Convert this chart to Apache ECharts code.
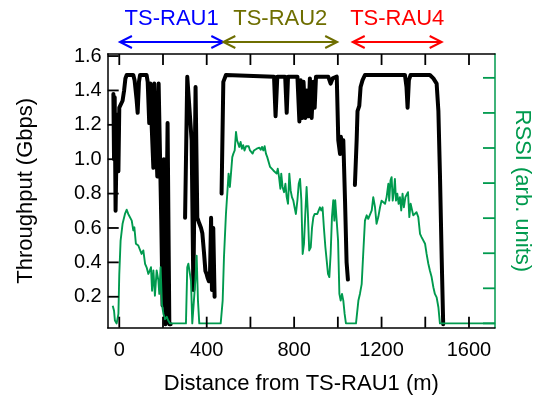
<!DOCTYPE html>
<html><head><meta charset="utf-8">
<script src="https://cdn.jsdelivr.net/npm/echarts@6/dist/echarts.min.js"></script>
<style>html,body{margin:0;padding:0;background:#fff}#c{width:537px;height:398px}</style>
</head><body><div id="c"></div>
<script>
// Throughput (Gbps) vs distance (m); null = no data
const thrDist = [-27,-24,-21,-17,-12,-8,-4,0,9,15,22,28,34,64,70,79,84,90,95,125,130,137,142,148,156,160,166,174,180,186,192,198,204,211,217,221,229,235,268,
  301,311,320,331,339,343,349,357,365,374,380,388,394,400,404,410,415,420,424,430,436,450,
  468,476,488,708,715,723,759,766,772,815,824,830,837,843,851,857,866,872,880,888,894,900,956,967,976,995,1002,1010,1014,1020,1025,1033,1040,1046,1060,
  1078,1086,1090,1098,1104,1113,1124,1307,1314,1319,1325,1333,1421,1437,1452,1460,1467,1475,1482];
const thrVal = [1.38,1.00,1.36,0.70,1.10,1.26,0.93,1.30,1.31,1.34,1.40,1.47,1.49,1.49,1.46,1.35,1.27,1.45,1.49,1.49,1.45,1.21,1.44,1.20,0.95,1.44,1.20,0.90,1.44,1.44,0.65,0.15,1.00,0.04,0.04,1.21,0.04,0.04,null,
  0.66,1.48,1.48,1.11,0.24,0.72,1.42,0.66,0.63,0.60,0.57,0.45,0.35,0.33,0.31,0.29,0.33,0.66,0.24,0.60,0.20,null,
  0.80,1.45,1.49,1.48,1.25,1.48,1.48,1.27,1.48,1.48,1.22,1.46,1.24,1.45,1.24,1.40,1.25,1.47,1.24,1.45,1.30,1.48,1.48,1.44,1.47,1.48,1.11,1.03,1.13,1.05,1.11,0.75,0.40,0.30,null,
  0.85,1.11,1.28,1.31,1.42,1.46,1.49,1.49,1.42,1.30,1.46,1.49,1.49,1.47,1.44,1.28,0.92,0.43,0.04];

// RSSI (arb. units) vs distance (m)
const rssiDist = [-30,-24,-20,-12,-4,0,6,15,26,34,41,49,57,64,69,76,87,95,102,110,118,125,133,140,145,150,156,163,171,179,183,189,195,202,209,217,224,232,
  305,311,316,324,328,334,343,348,354,360,366,
  464,473,479,488,494,500,506,511,517,522,528,534,539,543,549,555,561,567,573,580,586,592,598,604,610,616,622,629,635,641,647,653,659,665,671,677,683,690,697,705,712,720,725,731,737,741,747,754,760,766,772,778,784,790,796,802,808,815,821,827,833,839,845,851,857,863,869,876,882,888,894,900,906,912,918,924,930,936,943,949,955,961,967,973,979,984,988,995,1001,1007,1013,1019,1025,1031,1037,
  1083,1094,1101,1109,1116,1124,1132,1139,1147,1155,1162,1170,1177,1185,1193,1200,1208,1216,1223,1231,1235,1241,1246,1251,1257,1261,1266,1272,1278,1284,1290,1296,1302,1309,1315,1321,1327,1333,1339,1345,1353,1360,1368,1376,1383,1391,1399,1406,1414,1421,1429,1437,1444,1452,1460,1467,1720];
const rssiVal = [0.50,0.36,0.08,0,0.27,1.41,2.36,2.84,3.12,3.24,3.12,3.08,2.93,2.65,2.74,2.27,2.22,2.17,1.98,2.08,1.70,1.60,1.41,1.51,1.60,0.93,1.51,0.79,1.51,1.22,0.84,1.60,0.55,0.27,0.12,0.19,0.08,0,
  0,1.60,1.70,1.65,1.22,0,0,1.22,1.93,0.65,0,
  0,0.65,1.89,3.12,3.12,4.27,3.89,4.27,4.74,4.84,4.93,5.46,5.22,5.27,5.03,5.17,4.98,5.08,4.93,5.05,5.01,5.05,4.93,4.98,4.84,4.93,4.89,4.98,4.93,5.01,4.95,5.03,4.93,5.05,4.84,4.74,4.79,4.46,4.44,4.36,4.31,4.27,4.41,4.17,3.84,4.27,3.89,3.74,3.98,3.60,3.41,4.27,3.79,3.60,3.51,3.31,3.12,3.51,3.98,4.12,3.51,1.98,2.27,3.12,3.89,3.12,2.08,2.17,2.74,3.03,3.12,3.08,3.12,3.08,3.31,3.22,3.31,2.74,2.17,1.79,1.41,1.32,1.98,3.03,3.51,2.93,3.51,3.55,2.36,0.84,0.65,0.84,0.65,0.27,0,
  0,0.65,0.84,1.12,1.98,2.93,3.08,2.98,2.93,3.22,3.60,3.31,2.84,3.03,3.31,3.50,3.55,3.41,3.60,3.98,3.50,4.08,4.17,3.50,3.79,4.12,3.50,3.70,3.41,3.60,3.22,3.70,3.31,3.60,3.65,3.74,3.03,3.41,3.46,3.08,3.12,3.17,3.03,2.55,2.46,2.41,2.27,1.98,1.70,1.51,1.32,1.03,0.84,0.74,0.46,0,0];

const xTicks = [0,200,400,600,800,1000,1200,1400,1600];
const xLabels = [0,400,800,1200,1600];
const yTicks = [0.2,0.4,0.6,0.8,1.0,1.2,1.4,1.6];
const rssiTicks = [0,1,2,3,4,5,6,7];

const rauNames = ['TS-RAU1','TS-RAU2','TS-RAU4'];
const rauStart = [3,476,1068];
const rauEnd = [476,997,1475];
const rauColors = ['#0000ff','#6e6e00','#ff0000'];

(function(){
const X_MIN = -53, X_MAX = 1719, Y_MIN = 0.02, Y_MAX = 1.612, R_MIN = -0.123, R_MAX = 7.68;
const FONT = '"Liberation Sans", Arial, Helvetica, sans-serif';
const GREEN = '#009a4e';
const TL = 11;

const thrData = thrDist.map((d,i)=>[d, thrVal[i]===null ? '-' : thrVal[i]]);
const rssiData = rssiDist.map((d,i)=>[d, rssiVal[i]]);

const chart = echarts.init(document.getElementById('c'), null, {renderer:'canvas'});
const axisLine = {show:true, onZero:false, lineStyle:{color:'#000', width:1.5}};

// inward ticks drawn as custom series through the cartesian scales
function tickSeries(data, yIdx, kind, color){
  return {
    type:'custom', xAxisIndex:0, yAxisIndex:yIdx, data:data, z:10, clip:false, silent:true,
    renderItem:(params, api)=>{
      const v = api.value(kind==='x' ? 0 : 1);
      let shapes = [];
      if (kind==='x'){
        const b = api.coord([v, Y_MIN]);
        const t = api.coord([v, Y_MAX]);
        shapes = [[b[0], b[1], b[0], b[1]-TL], [t[0], t[1], t[0], t[1]+TL]];
      } else if (kind==='y'){
        const p = api.coord([X_MIN, v]);
        shapes = [[p[0], p[1], p[0]+TL, p[1]]];
      } else {
        const p = api.coord([X_MAX, v]);
        shapes = [[p[0], p[1], p[0]-12, p[1]]];
      }
      return {type:'group', children: shapes.map(s=>({type:'line', shape:{x1:s[0], y1:s[1], x2:s[2], y2:s[3]}, style:{stroke:color, lineWidth:1.8}}))};
    }
  };
}

chart.setOption({
  animation:false,
  textStyle:{fontFamily:FONT},
  grid:{left:107.7, right:42, top:54, bottom:70.3, containLabel:false, outerBoundsMode:'none'},
  xAxis:[{
    type:'value', min:X_MIN, max:X_MAX, position:'bottom',
    axisLine:axisLine, axisTick:{show:false},
    axisLabel:{customValues:xLabels, fontSize:20, color:'#000', margin:13, fontFamily:FONT, formatter:v=>String(v)},
    splitLine:{show:false},
    name:'Distance from TS-RAU1 (m)', nameLocation:'middle', nameGap:45,
    nameTextStyle:{fontSize:22, color:'#000', fontFamily:FONT}
  },{
    type:'value', min:X_MIN, max:X_MAX, position:'top',
    axisLine:axisLine, axisTick:{show:false},
    axisLabel:{show:false}, splitLine:{show:false}
  }],
  yAxis:[{
    type:'value', min:Y_MIN, max:Y_MAX, position:'left',
    axisLine:axisLine, axisTick:{show:false},
    axisLabel:{customValues:yTicks, fontSize:20, color:'#000', margin:6, fontFamily:FONT, formatter:v=>Number(v).toFixed(1)},
    splitLine:{show:false},
    name:'Throughput (Gbps)', nameLocation:'middle', nameGap:71, nameRotate:90,
    nameTextStyle:{fontSize:22, color:'#000', fontFamily:FONT}
  },{
    type:'value', min:R_MIN, max:R_MAX, position:'right',
    axisLine:{show:true, onZero:false, lineStyle:{color:GREEN, width:1.5}},
    axisTick:{show:false},
    axisLabel:{show:false}, splitLine:{show:false},
    name:'RSSI (arb. units)', nameLocation:'middle', nameGap:16, nameRotate:-90,
    nameTextStyle:{fontSize:22, color:GREEN, fontFamily:FONT}
  }],
  series:[{
    type:'line', name:'Throughput', xAxisIndex:0, yAxisIndex:0, data:thrData,
    showSymbol:false, symbol:'none', connectNulls:false, z:2,
    lineStyle:{color:'#000', width:4, join:'round', cap:'round'}
  },{
    type:'line', name:'RSSI', xAxisIndex:0, yAxisIndex:1, data:rssiData,
    showSymbol:false, symbol:'none', z:3,
    lineStyle:{color:GREEN, width:1.9, join:'round'}
  },
  tickSeries(xTicks.map(v=>[v, Y_MIN]), 0, 'x', '#000'),
  tickSeries(yTicks.map(v=>[X_MIN, v]), 0, 'y', '#000'),
  tickSeries(rssiTicks.map(v=>[X_MAX, v]), 1, 'r', GREEN)
  ]
});

// RAU coverage arrows above the plot, positioned through the x axis scale
const g = [];
const px = v => chart.convertToPixel({xAxisIndex:0}, v);
const arrowY = 42, textY = 19, head = 12, headH = 6;
rauNames.forEach((n,i)=>{
  const x1 = px(rauStart[i]);
  const x2 = px(rauEnd[i]);
  const c = rauColors[i];
  g.push({type:'line', shape:{x1:x1, y1:arrowY, x2:x2, y2:arrowY}, style:{stroke:c, lineWidth:2}});
  g.push({type:'polyline', shape:{points:[[x1+head, arrowY-headH],[x1, arrowY],[x1+head, arrowY+headH]]}, style:{stroke:c, lineWidth:2, fill:null}});
  g.push({type:'polyline', shape:{points:[[x2-head, arrowY-headH],[x2, arrowY],[x2-head, arrowY+headH]]}, style:{stroke:c, lineWidth:2, fill:null}});
  g.push({type:'text', x:(x1+x2)/2, y:textY, style:{text:n, fill:c, font:'22px '+FONT, align:'center', verticalAlign:'middle'}});
});
chart.setOption({graphic:g});
})();
</script></body></html>
